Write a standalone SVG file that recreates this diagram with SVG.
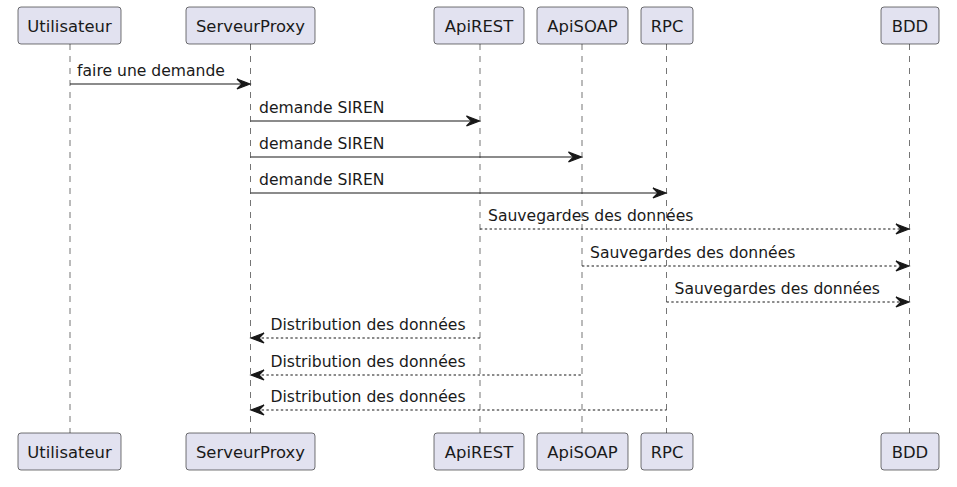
<svg xmlns="http://www.w3.org/2000/svg" width="957" height="487" viewBox="0 0 957 487">
<style>
.box{fill:#E2E2F0;stroke:#181818;stroke-width:0.6}
.pt{font-family:"DejaVu Sans",sans-serif;font-size:16.4px;fill:#1a1a1a;text-anchor:middle}
.life{stroke:#181818;stroke-width:0.6;stroke-dasharray:6,6;fill:none}
.msg{stroke:#181818;stroke-width:1.2;fill:none}
.dash{stroke-dasharray:2.4,2.4}
.lbl{font-family:"DejaVu Sans",sans-serif;font-size:15.6px;fill:#1a1a1a}
.ah{fill:#181818;stroke:#181818;stroke-width:1.2}
</style>
<rect width="957" height="487" fill="#FFFFFF"/>
<g id="lifelines">
<line class="life" x1="70" y1="44" x2="70" y2="433"/>
<line class="life" x1="250.5" y1="44" x2="250.5" y2="433"/>
<line class="life" x1="480" y1="44" x2="480" y2="433"/>
<line class="life" x1="582" y1="44" x2="582" y2="433"/>
<line class="life" x1="666.5" y1="44" x2="666.5" y2="433"/>
<line class="life" x1="909.5" y1="44" x2="909.5" y2="433"/>
</g>
<g id="Utilisateur">
<rect class="box" x="18" y="7" width="103" height="37" rx="3"/>
<text class="pt" x="69.5" y="31.5">Utilisateur</text>
<rect class="box" x="18" y="433" width="103" height="37" rx="3"/>
<text class="pt" x="69.5" y="457.5">Utilisateur</text>
</g>
<g id="ServeurProxy">
<rect class="box" x="186" y="7" width="129" height="37" rx="3"/>
<text class="pt" x="250.5" y="31.5">ServeurProxy</text>
<rect class="box" x="186" y="433" width="129" height="37" rx="3"/>
<text class="pt" x="250.5" y="457.5">ServeurProxy</text>
</g>
<g id="ApiREST">
<rect class="box" x="434" y="7" width="90" height="37" rx="3"/>
<text class="pt" x="479" y="31.5">ApiREST</text>
<rect class="box" x="434" y="433" width="90" height="37" rx="3"/>
<text class="pt" x="479" y="457.5">ApiREST</text>
</g>
<g id="ApiSOAP">
<rect class="box" x="537" y="7" width="91" height="37" rx="3"/>
<text class="pt" x="582.5" y="31.5">ApiSOAP</text>
<rect class="box" x="537" y="433" width="91" height="37" rx="3"/>
<text class="pt" x="582.5" y="457.5">ApiSOAP</text>
</g>
<g id="RPC">
<rect class="box" x="641" y="7" width="52" height="37" rx="3"/>
<text class="pt" x="667" y="31.5">RPC</text>
<rect class="box" x="641" y="433" width="52" height="37" rx="3"/>
<text class="pt" x="667" y="457.5">RPC</text>
</g>
<g id="BDD">
<rect class="box" x="881" y="7" width="58" height="37" rx="3"/>
<text class="pt" x="910" y="31.5">BDD</text>
<rect class="box" x="881" y="433" width="58" height="37" rx="3"/>
<text class="pt" x="910" y="457.5">BDD</text>
</g>
<g id="connectors">
<line class="msg" x1="70" y1="84" x2="249" y2="84"/>
<polygon class="ah" points="237,79 250,84 237,89 242,84"/>
<text class="lbl" x="77" y="76">faire une demande</text>

<line class="msg" x1="250.5" y1="121" x2="478.5" y2="121"/>
<polygon class="ah" points="466.5,116 479.5,121 466.5,126 471.5,121"/>
<text class="lbl" x="259" y="113">demande SIREN</text>

<line class="msg" x1="250.5" y1="157" x2="580.5" y2="157"/>
<polygon class="ah" points="568.5,152 581.5,157 568.5,162 573.5,157"/>
<text class="lbl" x="259" y="149">demande SIREN</text>

<line class="msg" x1="250.5" y1="193" x2="665" y2="193"/>
<polygon class="ah" points="653,188 666,193 653,198 658,193"/>
<text class="lbl" x="259" y="185">demande SIREN</text>

<line class="msg dash" x1="480" y1="229" x2="908" y2="229"/>
<polygon class="ah" points="896,224 909,229 896,234 901,229"/>
<text class="lbl" x="488" y="221">Sauvegardes des données</text>

<line class="msg dash" x1="582" y1="266" x2="908" y2="266"/>
<polygon class="ah" points="896,261 909,266 896,271 901,266"/>
<text class="lbl" x="590" y="258">Sauvegardes des données</text>

<line class="msg dash" x1="666.5" y1="302" x2="908" y2="302"/>
<polygon class="ah" points="896,297 909,302 896,307 901,302"/>
<text class="lbl" x="674.5" y="294">Sauvegardes des données</text>

<line class="msg dash" x1="252" y1="338" x2="480" y2="338"/>
<polygon class="ah" points="264,333 251,338 264,343 259,338"/>
<text class="lbl" x="270.5" y="330">Distribution des données</text>

<line class="msg dash" x1="252" y1="375" x2="582" y2="375"/>
<polygon class="ah" points="264,370 251,375 264,380 259,375"/>
<text class="lbl" x="270.5" y="367">Distribution des données</text>

<line class="msg dash" x1="252" y1="410" x2="666.5" y2="410"/>
<polygon class="ah" points="264,405 251,410 264,415 259,410"/>
<text class="lbl" x="270.5" y="402">Distribution des données</text>
</g>
</svg>
